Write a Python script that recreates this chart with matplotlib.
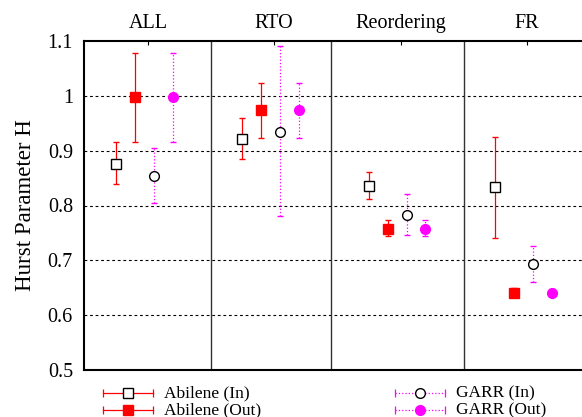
import numpy as np
import matplotlib
matplotlib.use("Agg")
import matplotlib.pyplot as plt
from matplotlib.lines import Line2D

plt.rcParams['font.family'] = ['Liberation Serif', 'DejaVu Serif']

# categories on top axis
categories = ["ALL", "RTO", "Reordering", "FR"]
cat_pos = [1, 2, 3, 4]
separators = [1.5, 2.45, 3.5]

# Hurst values with (low, high) bounds
abilene_in = [0.876, 0.921, 0.836, 0.833]
abilene_in_lo = [0.839, 0.884, 0.811, 0.740]
abilene_in_hi = [0.916, 0.959, 0.861, 0.925]

abilene_out = [0.997, 0.974, 0.758, 0.640]
abilene_out_lo = [0.915, 0.923, 0.745, 0.634]
abilene_out_hi = [1.079, 1.023, 0.773, 0.650]

garr_in = [0.854, 0.934, 0.783, 0.693]
garr_in_lo = [0.805, 0.780, 0.746, 0.660]
garr_in_hi = [0.904, 1.090, 0.821, 0.726]

garr_out = [0.997, 0.974, 0.758, 0.641]
garr_out_lo = [0.915, 0.923, 0.745, 0.635]
garr_out_hi = [1.079, 1.023, 0.773, 0.647]

offsets = [-0.253, -0.103, 0.047, 0.197]

fig = plt.figure(figsize=(5.82, 4.17), dpi=100)
ax = fig.add_axes([84 / 582, 47 / 417, 506 / 582, 329 / 417])

def err(vals, lo, hi):
    v = np.array(vals)
    return [v - np.array(lo), np.array(hi) - v]

series = [
    (abilene_in, abilene_in_lo, abilene_in_hi, dict(fmt='s', ms=6.5, mfc='white', mec='black', ecolor='red', ls='-')),
    (abilene_out, abilene_out_lo, abilene_out_hi, dict(fmt='s', ms=7, mfc='red', mec='red', ecolor='red', ls='-')),
    (garr_in, garr_in_lo, garr_in_hi, dict(fmt='o', ms=7, mfc='white', mec='black', ecolor='magenta', ls=':')),
    (garr_out, garr_out_lo, garr_out_hi, dict(fmt='o', ms=7, mfc='magenta', mec='magenta', ecolor='magenta', ls=':')),
]

x = np.array(cat_pos, dtype=float)
for (vals, lo, hi, st), off in zip(series, offsets):
    ls = st.pop('ls')
    c = ax.errorbar(x + off, vals, yerr=err(vals, lo, hi), elinewidth=0.9,
                    capsize=2.5, capthick=0.9, mew=1.0, zorder=3, **st)
    for bar in c[2]:
        bar.set_linestyle(ls)

for s in separators:
    ax.axvline(s, color='#333333', lw=1.0, zorder=1)

ax.set_xlim(0.493, 4.5)
ax.set_ylim(0.5, 1.1)
ax.set_yticks([0.5, 0.6, 0.7, 0.8, 0.9, 1.0, 1.1])
ax.set_yticklabels(["0.5", "0.6", "0.7", "0.8", "0.9", "1", "1.1"])
for yv in [0.6, 0.7, 0.8, 0.9, 1.0]:
    ax.axhline(yv, color='black', lw=0.8, ls=(0, (2.5, 2.5)), zorder=0)

ax.xaxis.tick_top()
ax.set_xticks(cat_pos)
ax.set_xticklabels(categories)
ax.tick_params(axis='x', direction='in', length=3, pad=6, labelsize=14.5)
ax.tick_params(axis='y', length=0, pad=8, labelsize=14.5)
ax.set_ylabel("Hurst Parameter H", fontsize=16.5, labelpad=8)

ax.spines['right'].set_visible(False)
for sp in ['left', 'top', 'bottom']:
    ax.spines[sp].set_linewidth(1.5)

# legend drawn below the axes, gnuplot style
def legend_entry(x0, x1, y, color, ls, marker, mfc, mec, label):
    fig.add_artist(Line2D([x0 / 582, x1 / 582], [y, y], color=color, lw=0.9, ls=ls,
                          transform=fig.transFigure))
    fig.add_artist(Line2D([x0 / 582, x1 / 582], [y, y], color=color, lw=0, marker='|', ms=6,
                          mew=0.9, transform=fig.transFigure))
    fig.add_artist(Line2D([(x0 + x1) / 2 / 582], [y], marker=marker, ms=7, mfc=mfc, mec=mec,
                          mew=1.0, lw=0, transform=fig.transFigure))
    fig.text((x1 + 11) / 582, y, label, fontsize=12.5, va='center', ha='left')

legend_entry(103, 153, 1 - 393 / 417, 'red', '-', 's', 'white', 'black', "Abilene (In)")
legend_entry(103, 153, 1 - 410 / 417, 'red', '-', 's', 'red', 'red', "Abilene (Out)")
legend_entry(395, 445, 1 - 393 / 417, 'magenta', ':', 'o', 'white', 'black', "GARR (In)")
legend_entry(395, 445, 1 - 410 / 417, 'magenta', ':', 'o', 'magenta', 'magenta', "GARR (Out)")

fig.savefig("out.png", dpi=100)
